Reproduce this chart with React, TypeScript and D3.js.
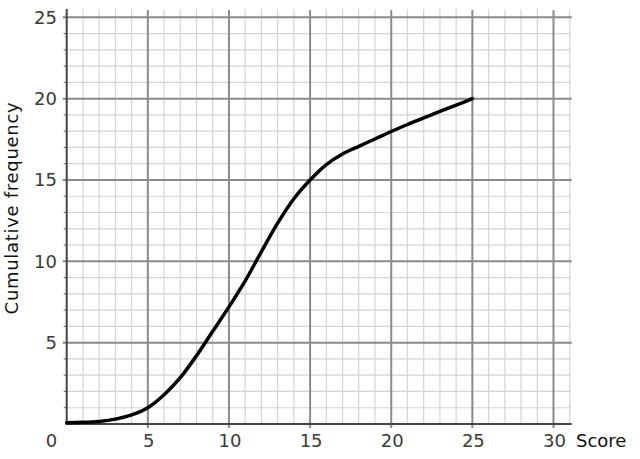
import React from "react";
import * as d3 from "d3";

const scores = [0, 1, 2, 3, 4, 5, 6, 7, 8, 9, 10, 11, 12, 13, 14, 15, 16, 17, 18, 19, 20, 21, 22, 23, 24, 25];
const cumFreq = [0.08, 0.1, 0.16, 0.3, 0.56, 1.0, 1.8, 2.85, 4.2, 5.7, 7.2, 8.8, 10.6, 12.35, 13.85, 15.0, 15.95, 16.6, 17.07, 17.52, 17.98, 18.41, 18.81, 19.21, 19.6, 20.0];
const xMajorTicks = [5, 10, 15, 20, 25, 30];
const yMajorTicks = [5, 10, 15, 20, 25];
const xLabel = "Score";
const yLabel = "Cumulative frequency";

export default function App() {
  const W = 640, H = 459;
  const x = d3.scaleLinear().domain([0, 30]).range([66.7, 553.5]);
  const y = d3.scaleLinear().domain([0, 25]).range([424, 17.3]);
  const xMax = 31, yTop = 25.45;
  const minorX = d3.range(1, xMax + 1).filter((v) => v % 5 !== 0);
  const minorY = d3.range(1, 26).filter((v) => v % 5 !== 0);
  const line = d3
    .line<number>()
    .x((_, i) => x(scores[i]))
    .y((d) => y(d))
    .curve(d3.curveCatmullRom.alpha(0.5));
  const font = "'DejaVu Sans', Verdana, sans-serif";
  return (
    <svg width={W} height={H} style={{ position: "absolute", left: 0, top: 0, background: "#fff" }}>
      {/* minor grid */}
      {minorX.map((v) => (
        <line key={"mx" + v} x1={x(v)} x2={x(v)} y1={y(yTop) - 1} y2={y(0)} stroke="#d4d4d4" strokeWidth={1.2} />
      ))}
      {minorY.map((v) => (
        <line key={"my" + v} x1={x(0)} x2={x(xMax) + 1} y1={y(v)} y2={y(v)} stroke="#d4d4d4" strokeWidth={1.2} />
      ))}
      {/* major grid */}
      {xMajorTicks.map((v) => (
        <line key={"Mx" + v} x1={x(v)} x2={x(v)} y1={y(yTop)} y2={y(0) + 4} stroke="#8a8a8a" strokeWidth={2} />
      ))}
      {yMajorTicks.map((v) => (
        <line key={"My" + v} x1={x(0) - 4} x2={x(xMax) + 2} y1={y(v)} y2={y(v)} stroke="#8a8a8a" strokeWidth={2} />
      ))}
      {/* minor ticks on y axis */}
      {minorY.map((v) => (
        <line key={"ty" + v} x1={x(0) - 3} x2={x(0)} y1={y(v)} y2={y(v)} stroke="#666" strokeWidth={1} />
      ))}
      {/* axes */}
      <line x1={x(0)} x2={x(0)} y1={y(yTop) - 1} y2={y(0) + 1} stroke="#444" strokeWidth={2} />
      <line x1={x(0) - 1} x2={x(xMax) + 2} y1={y(0)} y2={y(0)} stroke="#444" strokeWidth={2} />
      {/* curve */}
      <path d={line(cumFreq) || ""} fill="none" stroke="#000" strokeWidth={3.5} strokeLinecap="round" strokeLinejoin="round" />
      {/* tick labels */}
      {yMajorTicks.map((v) => (
        <text key={"ly" + v} x={57} y={y(v)} dy="0.36em" textAnchor="end" fontFamily={font} fontSize={18} fill="#3a3a3a">
          {v}
        </text>
      ))}
      <text x={51.5} y={447} textAnchor="middle" fontFamily={font} fontSize={18} fill="#3a3a3a">0</text>
      {xMajorTicks.map((v) => (
        <text key={"lx" + v} x={x(v) + 1} y={447} textAnchor="middle" fontFamily={font} fontSize={18} fill="#3a3a3a">
          {v}
        </text>
      ))}
      <text x={576} y={447} fontFamily={font} fontSize={18} fill="#111">{xLabel}</text>
      <text
        transform={`translate(17.5, 208) rotate(-90)`}
        textAnchor="middle"
        fontFamily={font}
        fontSize={18}
        letterSpacing={0.7}
        fill="#111"
      >
        {yLabel}
      </text>
    </svg>
  );
}
